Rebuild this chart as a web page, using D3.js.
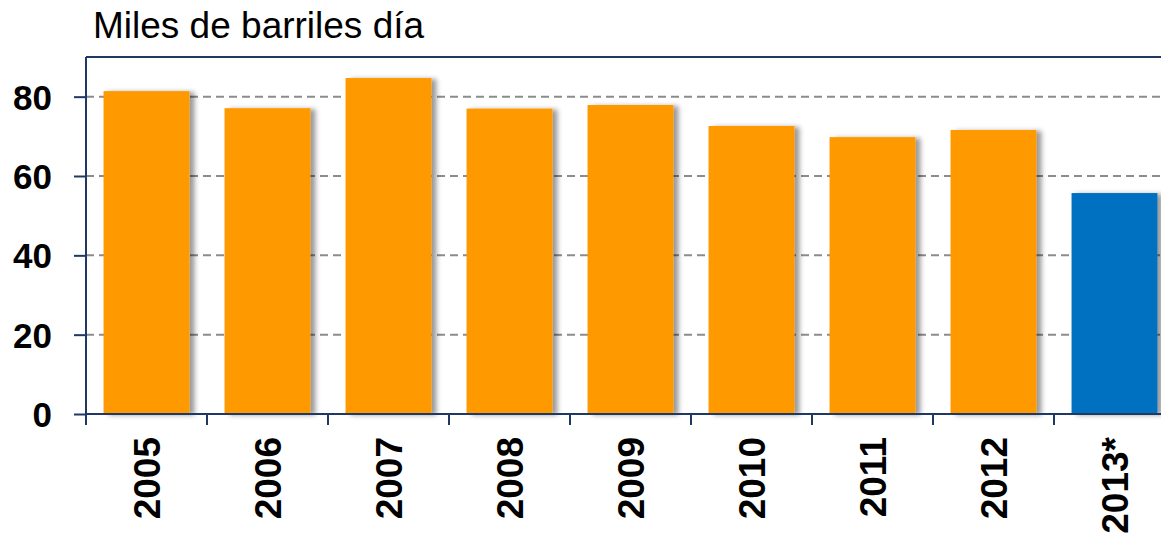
<!DOCTYPE html>
<html>
<head>
<meta charset="utf-8">
<script src="https://cdn.jsdelivr.net/npm/d3@7"></script>
<style>
  body { margin: 0; background: #fff; }
  svg { display: block; font-family: "Liberation Sans", Arial, sans-serif; }
</style>
</head>
<body>
<svg id="chart"></svg>
<script>
// Chart data
var categories = ["2005", "2006", "2007", "2008", "2009", "2010", "2011", "2012", "2013*"];
var values = [81.4, 77.1, 84.7, 77.0, 77.9, 72.6, 69.8, 71.6, 55.7];
var yTicks = [0, 20, 40, 60, 80];
var title = "Miles de barriles día";

var width = 1161, height = 535;
var margin = { top: 57, left: 86 };
var plotW = 1089, plotH = 357;

var svg = d3.select("#chart")
    .attr("width", width)
    .attr("height", height);

// soft shadow to the right of the bars
var defs = svg.append("defs");
var f = defs.append("filter").attr("id", "shadow")
    .attr("x", "-10%").attr("y", "-10%").attr("width", "130%").attr("height", "120%");
f.append("feDropShadow")
    .attr("dx", 5).attr("dy", 1)
    .attr("stdDeviation", 2.5)
    .attr("flood-color", "#000")
    .attr("flood-opacity", 0.4);

svg.append("text")
    .attr("x", 93)
    .attr("y", 38)
    .style("font-size", "37px")
    .style("fill", "#000")
    .text(title);

var g = svg.append("g")
    .attr("transform", "translate(" + margin.left + "," + margin.top + ")");

var x = d3.scaleBand()
    .domain(categories)
    .range([0, plotW])
    .paddingInner(0.29)
    .paddingOuter(0.145);

var y = d3.scaleLinear()
    .domain([0, 90])
    .range([plotH, 0]);

// gridlines
g.selectAll(".grid")
    .data(yTicks.filter(d => d > 0))
    .enter().append("line")
    .attr("x1", 0)
    .attr("x2", plotW)
    .attr("y1", d => y(d))
    .attr("y2", d => y(d))
    .attr("stroke", "#8c8c8c")
    .attr("stroke-width", 2)
    .attr("stroke-dasharray", "8,5");

// top frame
g.append("line")
    .attr("x1", 0).attr("x2", plotW)
    .attr("y1", 0).attr("y2", 0)
    .attr("stroke", "#1f3864")
    .attr("stroke-width", 2);

// bars
g.selectAll(".bar")
    .data(values)
    .enter().append("rect")
    .attr("class", "bar")
    .attr("x", (d, i) => x(categories[i]))
    .attr("width", x.bandwidth())
    .attr("y", d => y(d))
    .attr("height", d => y(0) - y(d))
    .attr("fill", (d, i) => i === categories.length - 1 ? "#0070c0" : "#ff9900")
    .attr("filter", "url(#shadow)");

// y axis
var yAxis = g.append("g")
    .call(d3.axisLeft(y).tickValues(yTicks).tickSize(12).tickPadding(22).tickSizeOuter(0));
yAxis.select(".domain").remove();
yAxis.selectAll("line").attr("stroke", "#1f3864").attr("stroke-width", 2);
yAxis.selectAll("text")
    .style("font-size", "35px")
    .style("font-weight", "bold")
    .style("fill", "#000")
    .attr("dy", "0.36em");

g.append("line")
    .attr("x1", 0).attr("x2", 0)
    .attr("y1", 0).attr("y2", plotH + 11)
    .attr("stroke", "#1f3864")
    .attr("stroke-width", 2);

// x axis
g.append("line")
    .attr("x1", 0).attr("x2", plotW)
    .attr("y1", plotH).attr("y2", plotH)
    .attr("stroke", "#1f3864")
    .attr("stroke-width", 2);

var step = x.step();
var bounds = categories.map(c => x(c) - step * x.paddingOuter());
g.selectAll(".xtick")
    .data(bounds.slice(1))
    .enter().append("line")
    .attr("x1", d => d).attr("x2", d => d)
    .attr("y1", plotH).attr("y2", plotH + 11)
    .attr("stroke", "#1f3864")
    .attr("stroke-width", 2);

g.selectAll(".xlabel")
    .data(categories)
    .enter().append("text")
    .attr("transform", d => "translate(" + (x(d) + x.bandwidth() / 2) + "," + (plotH + 23) + ") rotate(-90)")
    .attr("text-anchor", "end")
    .attr("dy", "0.36em")
    .style("font-size", "37px")
    .style("font-weight", "bold")
    .style("fill", "#000")
    .text(d => d);
</script>
</body>
</html>
